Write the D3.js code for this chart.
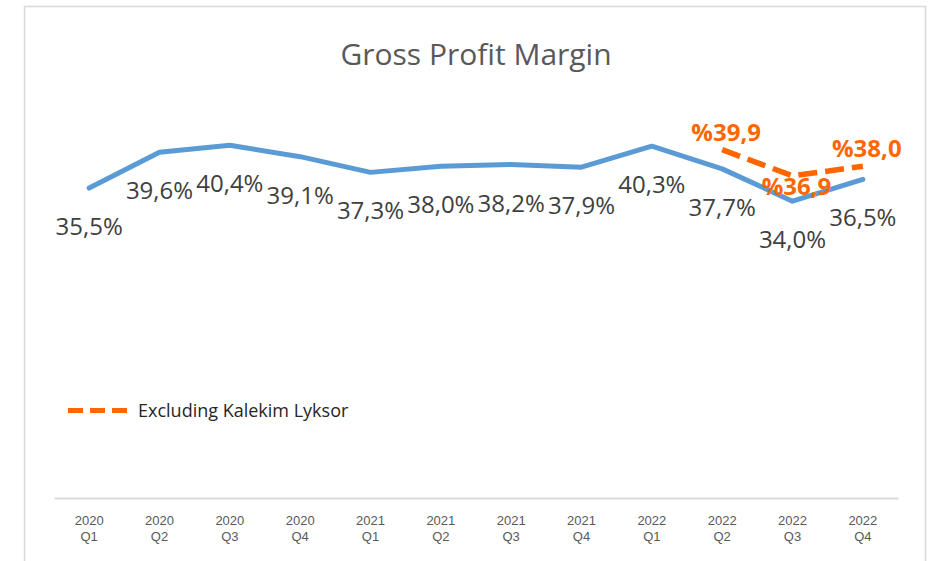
<!DOCTYPE html>
<html>
<head>
<meta charset="utf-8">
<script src="https://cdn.jsdelivr.net/npm/d3@7"></script>
<style>
  body { margin: 0; background: #fff; }
  svg { display: block; font-family: "Open Sans", sans-serif; }
</style>
</head>
<body>
<svg id="chartSVG" width="935" height="561"></svg>
<script>
// quarters on the x axis
var years = ['2020', '2020', '2020', '2020', '2021', '2021', '2021', '2021', '2022', '2022', '2022', '2022'];
var quarters = ['Q1', 'Q2', 'Q3', 'Q4', 'Q1', 'Q2', 'Q3', 'Q4', 'Q1', 'Q2', 'Q3', 'Q4'];

// gross profit margin, %
var margin = [35.5, 39.6, 40.4, 39.1, 37.3, 38.0, 38.2, 37.9, 40.3, 37.7, 34.0, 36.5];

// excluding Kalekim Lyksor, last three quarters only
var exclIndex = [9, 10, 11];
var exclMargin = [39.9, 36.9, 38.0];

var legendLabel = 'Excluding Kalekim Lyksor';
var title = 'Gross Profit Margin';

var svg = d3.select('#chartSVG');
var plot = { left: 54, right: 898, top: 61.5, bottom: 498 };

var blue = '#5B9BD5', orange = '#FF6600';

// outer chart frame
svg.append('rect')
  .attr('x', 24.5).attr('y', 6.5)
  .attr('width', 901).attr('height', 600)
  .attr('fill', '#fff')
  .attr('stroke', '#d9d9d9')
  .attr('stroke-width', 1.5);

var keys = years.map(function(y, i) { return i; });

var x = d3.scaleBand()
  .domain(keys)
  .range([plot.left, plot.right]);

var y = d3.scaleLinear()
  .domain([0, 50])
  .range([plot.bottom, plot.top]);

function cx(i) { return x(i) + x.bandwidth() / 2; }

// title
svg.append('text')
  .attr('x', (plot.left + plot.right) / 2)
  .attr('y', 65)
  .attr('text-anchor', 'middle')
  .attr('fill', '#595959')
  .style('font-size', '30px')
  .text(title);

// x axis
var axis = svg.append('g')
  .attr('transform', 'translate(0,' + plot.bottom + ')')
  .call(d3.axisBottom(x).tickSize(0).tickSizeOuter(0).tickFormat(''));

axis.select('.domain')
  .attr('stroke', '#d9d9d9')
  .attr('stroke-width', 2);

axis.selectAll('.tick text').remove();
axis.selectAll('.tick').append('text')
  .attr('text-anchor', 'middle')
  .attr('fill', '#595959')
  .style('font-size', '13px')
  .each(function(d) {
    var t = d3.select(this);
    t.append('tspan').attr('x', 0).attr('y', 27).text(years[d]);
    t.append('tspan').attr('x', 0).attr('y', 43).text(quarters[d]);
  });

// main line
var line = d3.line()
  .x(function(d) { return cx(d.i); })
  .y(function(d) { return y(d.v); });

var mainData = margin.map(function(v, i) { return { i: i, v: v }; });
var exclData = exclMargin.map(function(v, k) { return { i: exclIndex[k], v: v }; });

svg.append('path')
  .datum(mainData)
  .attr('d', line)
  .attr('fill', 'none')
  .attr('stroke', blue)
  .attr('stroke-width', 5)
  .attr('stroke-linejoin', 'round')
  .attr('stroke-linecap', 'round');

svg.append('path')
  .datum(exclData)
  .attr('d', line)
  .attr('fill', 'none')
  .attr('stroke', orange)
  .attr('stroke-width', 5.5)
  .attr('stroke-dasharray', '19,8')
  .attr('stroke-linejoin', 'round');

// labels under the blue points
svg.selectAll('.mainLabel')
  .data(mainData)
  .enter()
  .append('text')
  .attr('class', 'mainLabel')
  .attr('x', function(d) { return cx(d.i); })
  .attr('y', function(d) { return y(d.v) + 47; })
  .attr('text-anchor', 'middle')
  .attr('fill', '#404040')
  .style('font-size', '24px')
  .text(function(d) { return d3.format('.1f')(d.v).replace('.', ',') + '%'; });

// orange labels, the low one sits under the line
var exclMin = d3.min(exclMargin);
svg.selectAll('.exclLabel')
  .data(exclData)
  .enter()
  .append('text')
  .attr('class', 'exclLabel')
  .attr('x', function(d) { return cx(d.i) + 4; })
  .attr('y', function(d) { return d.v === exclMin ? y(d.v) + 19 : y(d.v) - 9; })
  .attr('text-anchor', 'middle')
  .attr('fill', orange)
  .style('font-size', '24px')
  .style('font-weight', 'bold')
  .text(function(d) { return '%' + d3.format('.1f')(d.v).replace('.', ','); });

// legend
var legend = svg.append('g').attr('transform', 'translate(68,410.5)');
legend.append('line')
  .attr('x1', 0).attr('x2', 59)
  .attr('stroke', orange)
  .attr('stroke-width', 5)
  .attr('stroke-dasharray', '15,7');
legend.append('text')
  .attr('x', 70).attr('y', 6)
  .attr('fill', '#262626')
  .style('font-size', '18px')
  .text(legendLabel);
</script>
</body>
</html>
